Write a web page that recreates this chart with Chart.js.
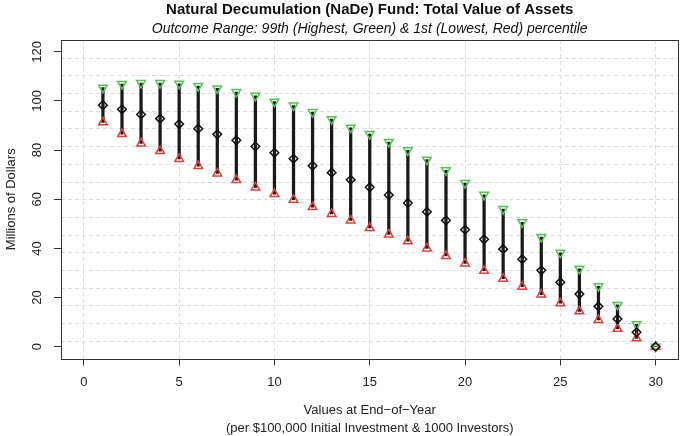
<!DOCTYPE html>
<html>
<head>
<meta charset="utf-8">
<script src="https://cdn.jsdelivr.net/npm/chart.js@4.4.1/dist/chart.umd.min.js"></script>
<style>
  html, body { margin: 0; padding: 0; background: #fff; }
  #wrap { width: 685px; height: 436px; position: relative; }
</style>
</head>
<body>
<div id="wrap"><canvas id="graph"></canvas></div>
<script>
// values (millions of dollars)
var years = [1, 2, 3, 4, 5, 6, 7, 8, 9, 10, 11, 12, 13, 14, 15, 16, 17, 18, 19, 20, 21, 22, 23, 24, 25, 26, 27, 28, 29, 30];
var highest = [105.4, 106.9, 107.3, 107.3, 107.0, 106.1, 105.1, 103.6, 102.1, 99.7, 98.1, 95.5, 92.6, 89.1, 86.5, 83.3, 79.9, 76.1, 71.8, 66.6, 61.8, 56.0, 50.6, 44.6, 38.2, 31.7, 24.6, 17.0, 9.1, 0];
var middle = [98.3, 96.6, 94.5, 92.8, 90.6, 88.7, 86.4, 84.0, 81.5, 78.9, 76.5, 73.6, 70.8, 67.9, 64.9, 61.7, 58.5, 54.9, 51.4, 47.6, 43.7, 39.7, 35.6, 31.1, 26.2, 21.4, 16.4, 11.3, 5.9, 0];
var lowest = [91.3, 86.5, 82.7, 79.6, 76.4, 73.5, 70.5, 67.8, 64.8, 62.1, 59.8, 56.8, 54.0, 51.4, 48.3, 45.7, 42.9, 40.0, 36.9, 33.9, 30.9, 27.7, 24.4, 21.2, 17.7, 14.4, 10.9, 7.3, 3.4, 0];
var xTicks = [0, 5, 10, 15, 20, 25, 30];
var yTicks = [0, 20, 40, 60, 80, 100, 120];

var X_MIN = -1.2, X_MAX = 31.2, Y_MIN = -4.8, Y_MAX = 124.8;
var FONT = '"Liberation Sans", Arial, Helvetica, sans-serif';

function pts(vals) {
    return years.map(function(y, i) { return { x: y, y: vals[i] }; });
}

// box, horizontal grid (18 equal cells), rotated y labels and titles
var decor = {
    id: 'decor',
    beforeDatasetsDraw: function(chart) {
        var ctx = chart.ctx, a = chart.chartArea, ys = chart.scales.y;
        ctx.save();
        ctx.strokeStyle = '#dcdcdc';
        ctx.lineWidth = 1;
        ctx.setLineDash([4, 3]);
        for (var k = 1; k < 18; k++) {
            var py = Math.round(ys.getPixelForValue(Y_MIN + k * (Y_MAX - Y_MIN) / 18)) + 0.5;
            ctx.beginPath();
            ctx.moveTo(a.left, py);
            ctx.lineTo(a.right, py);
            ctx.stroke();
        }
        ctx.restore();
    },
    afterDraw: function(chart) {
        var ctx = chart.ctx, a = chart.chartArea, ys = chart.scales.y;
        var cx = (a.left + a.right) / 2, cy = (a.top + a.bottom) / 2;
        ctx.save();
        ctx.strokeStyle = '#333';
        ctx.lineWidth = 1;
        ctx.strokeRect(Math.round(a.left) + 0.5, Math.round(a.top) + 0.5,
            Math.round(a.right - a.left) - 1, Math.round(a.bottom - a.top));

        ctx.fillStyle = '#111';
        ctx.textAlign = 'center';
        ctx.textBaseline = 'middle';
        ctx.font = 'bold 15px ' + FONT;
        ctx.fillText('Natural Decumulation (NaDe) Fund: Total Value of Assets', cx, 10);
        ctx.font = 'italic 14px ' + FONT;
        ctx.fillText('Outcome Range: 99th (Highest, Green) & 1st (Lowest, Red) percentile', cx, 29);

        ctx.font = '13px ' + FONT;
        ctx.fillStyle = '#222';
        ctx.fillText('Values at End\u2212of\u2212Year', cx, 410);
        ctx.fillText('(per $100,000 Initial Investment & 1000 Investors)', cx, 428);

        yTicks.forEach(function(v) {
            ctx.save();
            ctx.translate(37, ys.getPixelForValue(v));
            ctx.rotate(-Math.PI / 2);
            ctx.fillText(String(v), 0, 0);
            ctx.restore();
        });
        ctx.translate(11, cy);
        ctx.rotate(-Math.PI / 2);
        ctx.fillText('Millions of Dollars', 0, 0);
        ctx.restore();
    }
};

var ctx = document.getElementById('graph').getContext('2d');
var chart = new Chart(ctx, {
    type: 'scatter',
    data: {
        datasets: [{
            type: 'bar',
            label: 'range',
            data: years.map(function(y, i) { return { x: y, y: [lowest[i], highest[i]] }; }),
            backgroundColor: '#1a1a1a',
            borderWidth: 0,
            barThickness: 2.6,
            order: 4
        }, {
            label: '99th',
            data: pts(highest),
            pointStyle: 'triangle',
            rotation: 180,
            pointRadius: 5,
            borderColor: '#55c455',
            backgroundColor: 'rgba(0,0,0,0)',
            borderWidth: 1.5,
            order: 2
        }, {
            label: '1st',
            data: pts(lowest),
            pointStyle: 'triangle',
            pointRadius: 5,
            borderColor: '#e2403a',
            backgroundColor: 'rgba(0,0,0,0)',
            borderWidth: 1.5,
            order: 3
        }, {
            label: 'middle',
            data: pts(middle),
            pointStyle: 'rectRot',
            pointRadius: 4.3,
            borderColor: '#111',
            backgroundColor: 'rgba(0,0,0,0)',
            borderWidth: 1.5,
            order: 1
        }]
    },
    options: {
        responsive: true,
        maintainAspectRatio: false,
        animation: false,
        layout: { padding: { top: 40, right: 2, left: 0, bottom: 0 } },
        plugins: { legend: { display: false }, tooltip: { enabled: false }, title: { display: false } },
        scales: {
            x: {
                type: 'linear',
                min: X_MIN,
                max: X_MAX,
                offset: false,
                afterBuildTicks: function(s) { s.ticks = xTicks.map(function(v) { return { value: v }; }); },
                afterFit: function(s) { s.height = 77.5; },
                ticks: { font: { family: FONT, size: 13 }, color: '#222', padding: 9, maxRotation: 0 },
                grid: {
                    offset: false,
                    color: '#dcdcdc',
                    lineWidth: 1,
                    tickLength: 7,
                    tickColor: '#333',
                    tickBorderDash: []
                },
                border: { display: false, dash: [4, 3] }
            },
            y: {
                type: 'linear',
                min: Y_MIN,
                max: Y_MAX,
                afterBuildTicks: function(s) { s.ticks = yTicks.map(function(v) { return { value: v }; }); },
                afterFit: function(s) { s.width = 61; },
                ticks: { display: false },
                grid: { drawOnChartArea: false, tickLength: 7, tickColor: '#333' },
                border: { display: false }
            }
        }
    },
    plugins: [decor]
});
</script>
</body>
</html>
